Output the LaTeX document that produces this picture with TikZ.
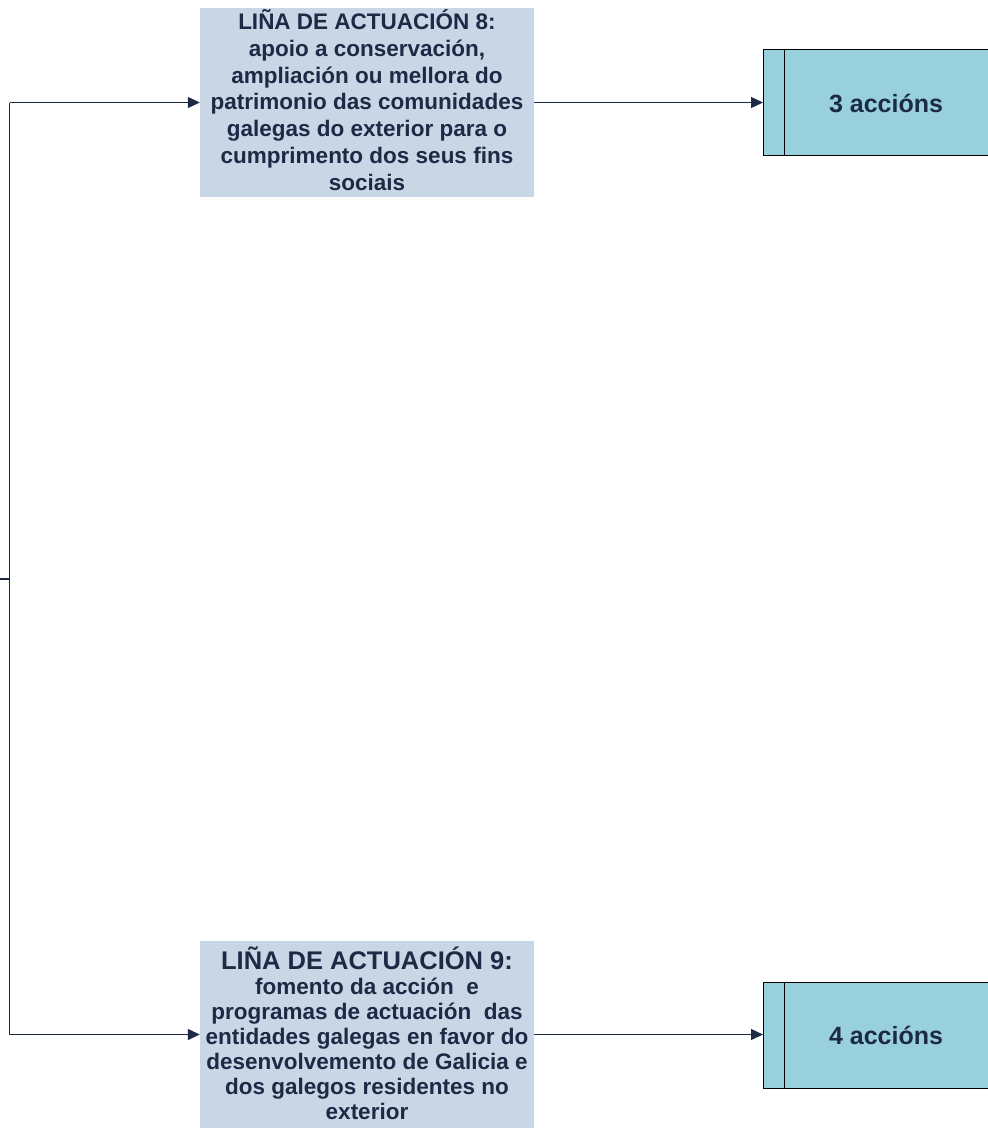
\documentclass[tikz,border=0pt]{standalone}
\usepackage{fontspec}
\setmainfont{Liberation Sans}
\usetikzlibrary{arrows.meta}
\definecolor{navy}{HTML}{1C2A45}
\definecolor{linebox}{HTML}{C8D6E5}
\definecolor{actbox}{HTML}{99D0DE}
\tikzset{
  linea/.style={fill=linebox, draw=none, minimum width=334pt, inner sep=0pt,
    align=center, text=navy, font=\bfseries\fontsize{22.5}{26.8}\selectfont},
  accion/.style={fill=actbox, draw=black, line width=1pt, minimum width=228pt,
    minimum height=106pt, inner sep=0pt},
  conn/.style={draw=navy, line width=1.3pt},
  arr/.style={conn, -{Triangle[length=12pt,width=11pt]}},
}
\begin{document}
\begin{tikzpicture}[x=1pt,y=-1pt]
\useasboundingbox (0,0) rectangle (988,1128);
\clip (0,0) rectangle (988,1128);
% line boxes
\node[linea, minimum height=189pt] (l8) at (367,102.5) {};
\node[linea, anchor=center] (l8t) at (367,100)
  {LIÑA DE ACTUACIÓN 8:\\apoio a conservación,\\ampliación ou mellora do\\patrimonio das comunidades\\galegas do exterior para o\\cumprimento dos seus fins\\sociais};
\node[linea, minimum height=187pt] (l9) at (367,1034.5) {};
\node[linea, font=\bfseries\fontsize{22.5}{25}\selectfont] (l9t) at (367,1033.5)
  {{\fontsize{25.5}{27}\selectfont LIÑA DE ACTUACIÓN 9:}\\fomento da acción\ \ e\\programas de actuación\ \ das\\entidades galegas en favor do\\desenvolvemento de Galicia e\\dos galegos residentes no\\exterior};
% action boxes
\node[accion, anchor=west] (a3) at (763,102) {};
\node[accion, anchor=west] (a4) at (763,1035.5) {};
\draw[black, line width=1pt] ([xshift=21pt]a3.north west) -- ([xshift=21pt]a3.south west);
\draw[black, line width=1pt] ([xshift=21pt]a4.north west) -- ([xshift=21pt]a4.south west);
\node[text=navy, font=\bfseries\fontsize{25}{28}\selectfont] (t3) at (886,103) {3 accións};
\node[text=navy, font=\bfseries\fontsize{25}{28}\selectfont] (t4) at (886,1035) {4 accións};
% trunk
\coordinate (top) at (9.5,102.5);
\coordinate (bot) at (9.5,1034.5);
\coordinate (src) at (0,579);
\coordinate (jn) at (9.5,579);
\draw[conn] (src) -- (jn);
\draw[conn] (top) -- (bot);
\draw[arr] (top) -- (l8.west);
\draw[arr] (bot) -- (l9.west);
\draw[arr] (l8.east) -- (l8.east -| a3.west);
\draw[arr] (l9.east) -- (l9.east -| a4.west);
\end{tikzpicture}
\end{document}
